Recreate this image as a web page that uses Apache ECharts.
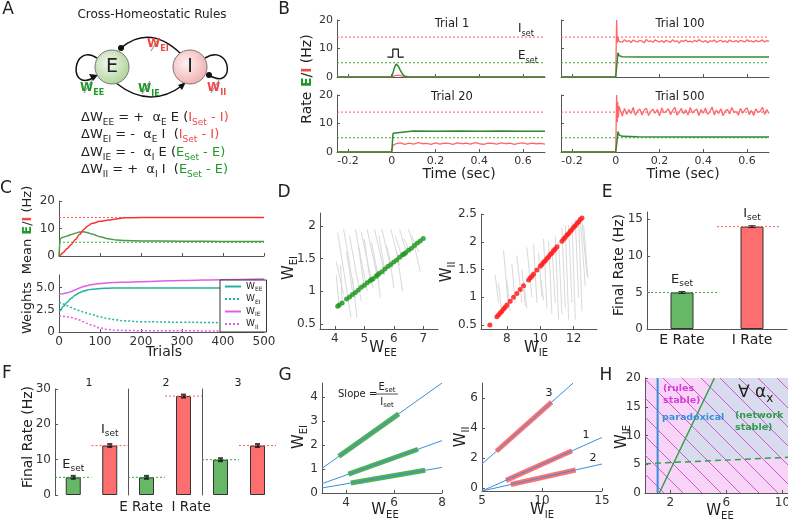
<!DOCTYPE html>
<html>
<head>
<meta charset="utf-8">
<title>Cross-homeostatic rules</title>
<script src="https://cdn.jsdelivr.net/npm/echarts@6.0.0/dist/echarts.min.js"></script>
<style>
html, body { margin: 0; padding: 0; background: #fff; }
#container { width: 788px; height: 519px; }
</style>
</head>
<body>
<div id="container"></div>
<script>
var FONT = 'DejaVu Sans';
var E_SET = 5, I_SET = 14;

// ---- B: single trials, rate (Hz) vs time (sec)
var bTicks = [-0.2, 0, 0.2, 0.4, 0.6];
var bTitles = ['Trial 1', 'Trial 20', 'Trial 100', 'Trial 500'];
var stimPulse = [[-0.02, 7], [0.005, 7], [0.005, 9.8], [0.03, 9.8], [0.03, 7], [0.055, 7]];
var trial1E = [[-0.25,0],[0,0],[0.005,0.6],[0.012,3.2],[0.02,4.5],[0.03,3.8],[0.04,2.2],[0.05,0.9],[0.06,0.25],[0.08,0],[0.7,0]];
var trial1I = [[-0.25,0],[0,0],[0.01,0.3],[0.02,0.6],[0.035,0.6],[0.05,0.3],[0.065,0.05],[0.08,0],[0.7,0]];
var trial20E = [[-0.25,0],[0,0],[0.006,6.6],[0.012,7.3],[0.1,7.4],[0.2,7.3],[0.3,7.35],[0.4,7.3],[0.5,7.35],[0.6,7.3],[0.7,7.3]];
var trial20IHead = [[-0.25,0],[0,0],[0.006,2.4],[0.012,3.1]];
var trial20ITail = [2.9,3.2,2.7,3.1,2.8,3.3,2.9,3.0,2.7,3.2,2.8,3.1,3.0,2.7,3.2,2.9,3.1,2.8,3.3,2.9,
                    2.7,3.1,3.0,2.8,3.2,2.9,3.1,2.7,3.0,3.2,2.8,3.1,2.9,3.0,2.8];
var trial100E = [[-0.25,0],[0,0],[0.006,5],[0.01,8.5],[0.015,7.5],[0.03,7.1],[0.1,7.0],[0.3,7.05],[0.5,7.0],[0.7,7.0]];
var trial100IHead = [[-0.25,0],[0,0],[0.004,20],[0.007,12],[0.01,14],[0.015,12.5]];
var trial100ITail = [12.9,12.2,13.1,12.4,12.8,12.1,13.0,12.5,12.3,12.9,12.6,12.0,13.2,12.4,12.7,12.2,13.0,12.6,12.3,12.8,
                     12.1,12.9,12.5,12.2,13.1,12.4,12.7,11.9,12.8,12.5,13.0,12.3,12.6,12.2,12.9,12.4,13.1,12.6,12.3,12.8,
                     12.0,12.7,12.5,13.0,12.2,12.6,12.9,12.3,12.7,12.1,13.0,12.5,12.4,12.8,12.2,12.9,12.6,12.3,13.1,12.5,
                     12.7,12.2,12.9,12.4,12.6,13.0,12.3,12.8,12.5];
var trial500E = [[-0.25,0],[0,0],[0.006,4],[0.01,7.2],[0.015,6],[0.03,5.5],[0.1,5.35],[0.4,5.3],[0.7,5.3]];
var trial500IHead = [[-0.25,0],[0,0],[0.004,20],[0.007,10.5],[0.009,17.5],[0.012,12],[0.015,16]];
var trial500ITail = [14.8,12.6,15.3,13.2,14.9,13.5,15.6,12.9,14.4,15.1,13.0,14.7,15.4,12.8,14.2,15.0,13.6,14.9,12.7,15.5,
                     13.8,14.3,15.2,13.1,14.6,15.7,12.9,14.0,15.3,13.4,14.8,13.0,15.6,13.7,14.5,15.1,12.8,14.9,13.6,15.4,
                     13.2,14.1,15.8,13.0,14.7,13.5,15.2,12.7,14.4,15.0,13.3,15.6,13.9,14.2,12.9,15.3,13.6,14.8,15.5,13.1,
                     14.6,12.8,15.1,13.9,14.3,15.7,13.2,14.9,13.5];

// ---- C: mean rates and weights over trials
var trials = [0,3,10,20,30,40,50,60,70,80,100,120,140,160,200,300,400,500];
var meanE = [0,6.3,6.8,7.3,7.8,8.3,8.7,8.8,8.5,8.0,7.0,6.3,5.8,5.6,5.5,5.4,5.3,5.3];
var meanI = [0,0.3,1.3,2.7,4.2,6.0,7.8,9.6,10.9,11.8,12.6,13.1,13.5,13.9,14.0,14.0,14.0,14.0];
var wEE = [2.3,2.4,2.85,3.35,3.8,4.15,4.4,4.6,4.72,4.8,4.88,4.92,4.94,4.95,4.95,4.95,4.95,4.95];
var wEI = [3.3,3.28,3.15,2.95,2.75,2.55,2.4,2.25,2.1,1.95,1.7,1.5,1.35,1.25,1.15,1.1,1.05,1.0];
var wIE = [4.25,4.26,4.3,4.4,4.55,4.75,4.95,5.1,5.22,5.32,5.45,5.52,5.57,5.6,5.65,5.78,5.88,5.95];
var wII = [1.8,1.79,1.75,1.7,1.62,1.5,1.35,1.15,0.95,0.75,0.45,0.28,0.2,0.17,0.15,0.13,0.12,0.12];

// ---- D: final weights from many initial conditions, and their paths
var dFinalEE = [4.1,4.15,4.25,4.4,4.5,4.6,4.7,4.8,4.9,5.0,5.1,5.2,5.25,5.3,5.4,5.45,5.5,5.6,5.7,5.8,5.9,6.0,6.1,6.2,6.3,6.35,6.4,6.5,6.6,6.7,6.8,6.9,7.0];
var dFinalEI = [0.77,0.79,0.82,0.88,0.91,0.95,0.98,1.02,1.06,1.09,1.13,1.16,1.18,1.19,1.23,1.25,1.27,1.30,1.34,1.38,1.41,1.45,1.48,1.52,1.56,1.57,1.59,1.63,1.66,1.70,1.74,1.77,1.81];
var dPathsE = [[4.05,1.45,4.3,0.95],[4.1,1.9,4.55,0.6],[4.05,1.25,4.15,0.75],[4.3,1.95,4.7,0.9],[4.4,1.6,4.6,1.0],
               [4.5,1.85,4.9,0.85],[4.7,1.95,5.1,1.0],[4.8,1.7,5.0,1.05],[4.9,1.9,5.3,1.05],[5.0,1.8,5.2,1.15],
               [5.1,1.95,5.45,1.2],[5.25,1.75,5.5,1.15],[5.35,1.95,5.7,1.25],[5.5,1.85,5.7,1.3],[5.6,1.95,5.9,1.35],
               [5.75,1.7,5.95,1.35],[5.9,1.95,6.2,1.4],[6.05,1.85,6.3,1.5],[6.2,1.95,6.45,1.55],[6.35,1.8,6.55,1.6],
               [6.5,1.95,6.7,1.65],[6.6,1.85,6.85,1.6],[4.6,1.2,4.75,0.6],[5.4,1.4,5.55,0.9],[6.1,1.6,6.3,1.0],
               [6.7,1.7,6.9,1.3],[5.9,1.4,6.0,1.05],[4.2,1.4,4.25,0.85]];
var dFinalIE = [6.98,7.4,7.5,7.6,7.7,7.8,7.9,8.0,8.2,8.4,8.6,8.8,9.0,9.3,9.4,9.5,9.6,9.8,10.0,10.1,10.2,10.3,10.4,10.5,10.6,10.7,10.8,10.9,11.0,11.3,11.4,11.5,11.6,11.7,11.8,11.9,12.0,12.1,12.2,12.3,12.4,12.5];
var dFinalII = [0.5,0.65,0.68,0.72,0.75,0.79,0.82,0.86,0.93,1.0,1.07,1.14,1.21,1.31,1.35,1.38,1.42,1.49,1.56,1.59,1.63,1.66,1.70,1.73,1.77,1.80,1.84,1.87,1.91,2.01,2.05,2.08,2.12,2.15,2.19,2.22,2.26,2.29,2.33,2.36,2.40,2.43];
var dPathsI = [[7.3,1.4,7.5,0.9],[7.5,1.25,7.7,0.7],[7.8,1.85,8.1,0.8],[8.0,1.3,8.2,0.75],[8.3,1.6,8.5,0.9],
               [8.6,1.75,8.9,0.9],[8.9,1.5,9.1,0.85],[9.2,1.9,9.5,1.0],[9.6,1.95,9.8,0.9],[9.9,1.8,10.1,1.0],
               [10.2,2.05,10.4,0.8],[10.5,2.0,10.7,0.7],[10.7,1.9,10.9,0.9],[10.9,2.1,11.1,0.6],[11.1,2.0,11.3,0.7],
               [11.3,2.25,11.5,0.8],[11.5,2.3,11.7,0.6],[11.7,2.3,11.9,0.9],[11.9,2.35,12.1,0.6],[12.1,2.4,12.3,1.0],
               [12.3,2.4,12.5,0.75],[12.4,2.4,12.7,1.2],[12.5,2.35,12.8,1.4],[12.6,2.3,12.85,1.35],[9.0,1.3,9.2,0.8],
               [10.0,1.4,10.2,0.95]];

// ---- E: final rates
var eCats = ['E Rate', 'I Rate'];
var eRates = [5.0, 14.0];

// ---- F: three set-point conditions
var fTitles = ['1', '2', '3'];
var fRateE = [5, 5, 10];
var fRateI = [14, 28, 14];
var fSetE = [5, 5, 10];
var fSetI = [14, 28, 14];

// ---- G: final weights lie on lines of slope Eset/Iset
var gLinesE = [[[3,1.03],[8,4.6]], [[3,0.39],[8,2.19]], [[3,0.21],[8,1.07]]];
var gFinalE = [[[3.7,1.53],[6.2,3.31]], [[4.1,0.79],[7.0,1.83]], [[4.2,0.42],[7.3,0.95]]];
var gLinesI = [[[5,1.6],[12.6,7.0]], [[5,-0.2],[15,3.37]], [[5,-0.2],[15,1.6]]];
var gFinalI = [[[6.2,2.45],[10.8,5.72]], [[7.0,0.51],[12.5,2.48]], [[7.4,0.23],[12.8,1.2]]];

// ---- H: stability regions
var hX = [0.2, 10.4], hY = [0, 20];
var hParadoxical = [[1.1,0],[1.1,20]];
var hNetStable = [[1.22,0],[5.15,20]];
var hNetStableDash = [[0.2,5.1],[10.4,6.2]];
var hStableRegion = [[2.27,5.32],[5.15,20],[10.4,20],[10.4,6.2]];

// colours
var RED_T = '#f04848', GREEN_T = '#1f9a2a';
var TEAL = '#20b59c', MAG = '#e45ce6', BLUE = '#3b8fd9';

function trace(head, t0, dt, vals) {
    var out = head.slice();
    for (var k = 0; k < vals.length; k++) out.push([+(t0 + k * dt).toFixed(3), vals[k]]);
    return out;
}
function zip(xs, ys) { return xs.map(function (x, k) { return [x, ys[k]]; }); }

var grids = [
    [337,20,208,57],[337,95,208,57],[561,20,208,57],[561,95,208,57],
    [59,201,205,55],[59,275,205,57],
    [320,213,118,116],[481,214,116,115],
    [647,212,140,117],
    [55,389,73,106],[128,389,74,106],[202,389,74,106],
    [322,383,120,110],[482,383,120,108],
    [645,378,143,115]
];

function vAxis(i, o) {
    var a = {
        type: 'value', gridIndex: i,
        axisLine: {show: true, onZero: false, lineStyle: {color: '#555', width: 1}},
        axisTick: {show: true, inside: true, length: 3, lineStyle: {color: '#555'}},
        axisLabel: {color: '#333', fontSize: 11, fontFamily: FONT, margin: 4},
        splitLine: {show: false}
    };
    for (var k in o) {
        if (o[k] && typeof o[k] === 'object' && !Array.isArray(o[k]) && a[k]) Object.assign(a[k], o[k]);
        else a[k] = o[k];
    }
    return a;
}
function cv(list, extra) { var r = {customValues: list}; for (var k in extra) r[k] = extra[k]; return r; }

var xAxes = [
    vAxis(0, {min: -0.25, max: 0.7, axisLabel: {show: false}, axisTick: cv(bTicks)}),
    vAxis(1, {min: -0.25, max: 0.7, axisLabel: cv(bTicks), axisTick: cv(bTicks)}),
    vAxis(2, {min: -0.25, max: 0.7, axisLabel: {show: false}, axisTick: cv(bTicks)}),
    vAxis(3, {min: -0.25, max: 0.7, axisLabel: cv(bTicks), axisTick: cv(bTicks)}),
    vAxis(4, {min: 0, max: 500, interval: 100, axisLabel: {show: false}}),
    vAxis(5, {min: 0, max: 500, interval: 100, axisLabel: {fontSize: 12}}),
    vAxis(6, {min: 3.5, max: 7.5, axisLabel: cv([4,5,6,7], {fontSize: 12}), axisTick: cv([4,5,6,7])}),
    vAxis(7, {min: 6.45, max: 13.4, axisLabel: cv([8,10,12], {fontSize: 12}), axisTick: cv([8,10,12])}),
    vAxis(8, {min: 0, max: 2, axisTick: {show: false},
        axisLabel: cv([0.5,1.5], {fontSize: 14, color: '#222', formatter: function (v) { return eCats[v < 1 ? 0 : 1]; }})}),
    vAxis(9, {min: 0, max: 2, axisLine: {show: false}, axisLabel: {show: false}, axisTick: {show: false}}),
    vAxis(10, {min: 0, max: 2, axisLine: {show: false}, axisLabel: {show: false}, axisTick: {show: false}}),
    vAxis(11, {min: 0, max: 2, axisLine: {show: false}, axisLabel: {show: false}, axisTick: {show: false}}),
    vAxis(12, {min: 3, max: 8, axisLabel: cv([4,6,8], {fontSize: 12}), axisTick: cv([4,6,8])}),
    vAxis(13, {min: 5, max: 15, interval: 5, axisLabel: {fontSize: 12}}),
    vAxis(14, {min: hX[0], max: hX[1], axisLabel: cv([2,6,10], {fontSize: 12}), axisTick: cv([2,6,10])})
];
var yAxes = [
    vAxis(0, {min: 0, max: 20, interval: 10}),
    vAxis(1, {min: 0, max: 20, interval: 10}),
    vAxis(2, {min: 0, max: 20, interval: 10, axisLabel: {show: false}}),
    vAxis(3, {min: 0, max: 20, interval: 10, axisLabel: {show: false}}),
    vAxis(4, {min: 0, max: 20, interval: 10, axisLabel: {fontSize: 12}}),
    vAxis(5, {min: 0, max: 6.4, axisLabel: cv([0,2.5,5], {fontSize: 12, formatter: function (v) { return v === 0 ? '0' : v.toFixed(1); }}), axisTick: cv([0,2.5,5])}),
    vAxis(6, {min: 0.42, max: 2.2, axisLabel: cv([0.5,1,1.5,2], {fontSize: 12}), axisTick: cv([0.5,1,1.5,2])}),
    vAxis(7, {min: 0.43, max: 2.5, axisLabel: cv([0.5,1,1.5,2,2.5], {fontSize: 12}), axisTick: cv([0.5,1,1.5,2,2.5])}),
    vAxis(8, {min: 0, max: 16, axisLabel: cv([0,5,10,15], {fontSize: 12}), axisTick: cv([0,5,10,15])}),
    vAxis(9, {min: 0, max: 30, interval: 10, axisLabel: {fontSize: 12}}),
    vAxis(10, {min: 0, max: 30, interval: 10, axisLabel: {show: false}, axisTick: {show: false}}),
    vAxis(11, {min: 0, max: 30, interval: 10, axisLabel: {show: false}, axisTick: {show: false}}),
    vAxis(12, {min: 0, max: 4.6, axisLabel: cv([0,1,2,3,4], {fontSize: 12}), axisTick: cv([0,1,2,3,4])}),
    vAxis(13, {min: -0.2, max: 7, axisLabel: cv([0,2,4,6], {fontSize: 12}), axisTick: cv([0,2,4,6])}),
    vAxis(14, {min: hY[0], max: hY[1], interval: 5, axisLabel: {fontSize: 12}})
];

var series = [];
function add(i, s) { s.xAxisIndex = i; s.yAxisIndex = i; s.animation = false; series.push(s); return s; }
function plain(i, data, color, width, type, extra) {
    var s = {type: 'line', data: data, symbol: 'none', silent: true, color: color,
        itemStyle: {color: color},
        lineStyle: {color: color, width: width, type: type || 'solid'}};
    for (var k in extra) s[k] = extra[k];
    return add(i, s);
}
function setLine(i, x0, x1, v, color) { return plain(i, [[x0, v], [x1, v]], color, 1, [2, 2]); }

// B
var bPanels = [
    {E: trial1E, I: trial1I},
    {E: trial20E, I: trace(trial20IHead, 0.02, 0.02, trial20ITail)},
    {E: trial100E, I: trace(trial100IHead, 0.02, 0.01, trial100ITail)},
    {E: trial500E, I: trace(trial500IHead, 0.02, 0.01, trial500ITail)}
];
bPanels.forEach(function (p, i) {
    setLine(i, -0.25, 0.7, I_SET, '#ff5a5a');
    setLine(i, -0.25, 0.7, E_SET, '#3aa63a');
    plain(i, p.I, '#ff6666', 1.3);
    plain(i, p.E, '#2f8a2f', 1.5);
});
plain(0, stimPulse, '#111', 1.2);

// C
setLine(4, 0, 500, I_SET, '#ff5a5a');
setLine(4, 0, 500, E_SET, '#3aa63a');
plain(4, zip(trials, meanE), '#4b9b4b', 1.5, 'solid', {smooth: 0.3, smoothMonotone: 'x'});
plain(4, zip(trials, meanI), '#ff3030', 1.5, 'solid', {smooth: 0.3, smoothMonotone: 'x'});
plain(5, zip(trials, wEE), TEAL, 1.5, 'solid', {name: 'WEE', smooth: 0.4, smoothMonotone: 'x'});
plain(5, zip(trials, wEI), TEAL, 1.5, [2, 2], {name: 'WEI', smooth: 0.4, smoothMonotone: 'x'});
plain(5, zip(trials, wIE), MAG, 1.5, 'solid', {name: 'WIE', smooth: 0.4, smoothMonotone: 'x'});
plain(5, zip(trials, wII), MAG, 1.5, [2, 2], {name: 'WII', smooth: 0.4, smoothMonotone: 'x'});

// D
function paths(list) { return list.map(function (s) { return {coords: [[s[0], s[1]], [s[2], s[3]]]}; }); }
add(6, {type: 'lines', coordinateSystem: 'cartesian2d', silent: true, data: paths(dPathsE), lineStyle: {color: '#d9d9d9', width: 1, opacity: 1}});
add(6, {type: 'scatter', data: zip(dFinalEE, dFinalEI), symbolSize: 5, itemStyle: {color: '#229a22', opacity: 0.85}});
add(7, {type: 'lines', coordinateSystem: 'cartesian2d', silent: true, data: paths(dPathsI), lineStyle: {color: '#d9d9d9', width: 1, opacity: 1}});
add(7, {type: 'scatter', data: zip(dFinalIE, dFinalII), symbolSize: 5, itemStyle: {color: '#ff1f1f', opacity: 0.85}});

// E
var barRich = {
    n: {color: '#222', fontSize: 13, fontFamily: FONT, lineHeight: 18},
    s: {color: '#222', fontSize: 9, fontFamily: FONT, lineHeight: 10, verticalAlign: 'bottom'}
};
setLine(8, 0, 1, E_SET, '#3aa63a');
setLine(8, 1, 1.9, I_SET, '#ff5a5a');
add(8, {type: 'bar', barWidth: 23, data: [
    {value: [0.5, eRates[0]], itemStyle: {color: '#66b866'}, label: {formatter: '{n|E}{s|set}'}},
    {value: [1.5, eRates[1]], itemStyle: {color: '#ff6e6e'}, label: {formatter: '{n|I}{s|set}'}}
], itemStyle: {borderColor: '#333', borderWidth: 1},
    label: {show: true, position: 'top', distance: 4, rich: barRich}});
add(8, {type: 'scatter', symbol: 'rect', symbolSize: [7, 3], itemStyle: {color: '#111'},
    data: [[0.5, eRates[0]], [1.5, eRates[1]]]});

// F
[0, 1, 2].forEach(function (k) {
    var i = 9 + k;
    setLine(i, 0, 1, fSetE[k], '#3aa63a');
    setLine(i, 1, 2, fSetI[k], '#ff5a5a');
    var lab = k === 0;
    add(i, {type: 'bar', barWidth: 15, data: [
        {value: [0.5, fRateE[k]], itemStyle: {color: '#66b866'}, label: {show: lab, formatter: '{n|E}{s|set}', distance: 4}},
        {value: [1.5, fRateI[k]], itemStyle: {color: '#ff6e6e'}, label: {show: lab, formatter: '{n|I}{s|set}', distance: 7}}
    ], itemStyle: {borderColor: '#333', borderWidth: 1},
        label: {position: 'top', rich: barRich}});
    add(i, {type: 'scatter', symbol: 'rect', symbolSize: 5, itemStyle: {color: '#111'},
        data: [[0.5, fRateE[k]], [1.5, fRateI[k]]]});
});

// G
gFinalE.forEach(function (s) { plain(12, s, '#3fa83f', 5, 'solid', {lineStyle: {color: '#3fa83f', width: 5, opacity: 0.9}}); });
gLinesE.forEach(function (s) { plain(12, s, BLUE, 1); });
gFinalI.forEach(function (s) { plain(13, s, '#ff6262', 5, 'solid', {lineStyle: {color: '#ff6262', width: 5, opacity: 0.9}}); });
gLinesI.forEach(function (s) { plain(13, s, BLUE, 1); });

// H
var pat = document.createElement('canvas');
pat.width = pat.height = 19;
var pc = pat.getContext('2d');
pc.strokeStyle = '#c84bc8';
pc.lineWidth = 0.9;
[[-2, -2, 21, 21], [-2, 17, 2, 21], [17, -2, 21, 2]].forEach(function (l) {
    pc.beginPath(); pc.moveTo(l[0], l[1]); pc.lineTo(l[2], l[3]); pc.stroke();
});
add(14, {type: 'custom', silent: true, data: [[0, 0]], renderItem: function (params, api) {
    var pts = hStableRegion.map(function (p) { return api.coord(p); });
    return {type: 'polygon', shape: {points: pts}, style: {fill: '#d9dbef'}};
}});
add(14, {type: 'custom', silent: true, data: [[0, 0]], renderItem: function (params, api) {
    var p0 = api.coord([hX[0], hY[1]]), p1 = api.coord([hX[1], hY[0]]);
    return {type: 'rect', shape: {x: p0[0], y: p0[1], width: p1[0] - p0[0], height: p1[1] - p0[1]},
        style: {fill: {image: pat, repeat: 'repeat'}}};
}});
plain(14, hParadoxical, BLUE, 2);
plain(14, hNetStable, '#33a04a', 1.5);
plain(14, hNetStableDash, '#33a04a', 1.5, [6, 4]);

// ---- text and diagram
function gRich(size) {
    var sub = Math.round(size * 0.68);
    function mk(fill, s, bold) {
        return {fill: fill, fontSize: s, fontFamily: FONT, fontWeight: bold ? 'bold' : 'normal',
            lineHeight: s === size ? Math.round(size * 1.4) : s + 1, verticalAlign: s === size ? 'middle' : 'bottom'};
    }
    return {k: mk('#222', size), ks: mk('#222', sub), r: mk(RED_T, size), rs: mk(RED_T, sub),
        g: mk(GREEN_T, size), gs: mk(GREEN_T, sub), rb: mk(RED_T, size, true), rbs: mk(RED_T, sub, true),
        gb: mk(GREEN_T, size, true), gbs: mk(GREEN_T, sub, true)};
}
function gText(x, y, text, size, opt) {
    opt = opt || {};
    return {type: 'text', x: x, y: y, rotation: opt.rot || 0, z: 50, silent: true, style: {
        text: text, fontSize: size, fontFamily: FONT, fill: opt.color || '#222',
        fontWeight: opt.bold ? 'bold' : 'normal', align: opt.align || 'center', verticalAlign: 'middle',
        rich: opt.rich ? gRich(size) : undefined}};
}
function seg(x1, y1, x2, y2, color, w) {
    return {type: 'line', z: 40, silent: true, shape: {x1: x1, y1: y1, x2: x2, y2: y2}, style: {stroke: color, lineWidth: w}};
}
var ROT = Math.PI / 2;

var eqs = [
    '{k|ΔW}{ks|EE}{k| = +  α}{ks|E}{k| E (}{r|I}{rs|Set}{r| - I)}',
    '{k|ΔW}{ks|EI}{k| = -  α}{ks|E}{k| I  (}{r|I}{rs|Set}{r| - I)}',
    '{k|ΔW}{ks|IE}{k| = -  α}{ks|I}{k| E (}{g|E}{gs|Set}{g| - E)}',
    '{k|ΔW}{ks|II}{k| = +  α}{ks|I}{k| I  (}{g|E}{gs|Set}{g| - E)}'
];

var graphics = [
    // panel letters
    gText(8, 10, 'A', 17), gText(284, 10, 'B', 17), gText(6, 189, 'C', 17), gText(284, 193, 'D', 17),
    gText(607, 193, 'E', 17), gText(7, 374, 'F', 17), gText(285, 376, 'G', 17), gText(606, 376, 'H', 17),
    // A
    gText(152, 15, 'Cross-Homeostatic Rules', 12),
    {type: 'bezierCurve', z: 30, silent: true, shape: {x1: 121, y1: 48, cpx1: 150, cpy1: 24, x2: 181, y2: 54}, style: {stroke: '#111', lineWidth: 1.5, fill: null}},
    {type: 'circle', z: 31, silent: true, shape: {cx: 121, cy: 48, r: 3}, style: {fill: '#111'}},
    {type: 'bezierCurve', z: 30, silent: true, shape: {x1: 116, y1: 83, cpx1: 150, cpy1: 110, x2: 183, y2: 85}, style: {stroke: '#111', lineWidth: 1.5, fill: null}},
    {type: 'polygon', z: 31, silent: true, shape: {points: [[186, 82], [178, 85], [182, 90]]}, style: {fill: '#111'}},
    {type: 'bezierCurve', z: 30, silent: true, shape: {x1: 97, y1: 58, cpx1: 72, cpy1: 42, cpx2: 68, cpy2: 92, x2: 93, y2: 78}, style: {stroke: '#111', lineWidth: 1.5, fill: null}},
    {type: 'polygon', z: 31, silent: true, shape: {points: [[98, 75], [89, 74], [93, 81]]}, style: {fill: '#111'}},
    {type: 'bezierCurve', z: 30, silent: true, shape: {x1: 205, y1: 58, cpx1: 232, cpy1: 42, cpx2: 236, cpy2: 92, x2: 209, y2: 75}, style: {stroke: '#111', lineWidth: 1.5, fill: null}},
    {type: 'circle', z: 31, silent: true, shape: {cx: 209, cy: 75, r: 3}, style: {fill: '#111'}},
    {type: 'circle', z: 32, silent: true, shape: {cx: 112, cy: 67, r: 17},
        style: {stroke: '#777', lineWidth: 1, fill: {type: 'radial', x: 0.4, y: 0.4, r: 0.7, colorStops: [{offset: 0, color: '#f2f8ec'}, {offset: 1, color: '#a8cf92'}]}}},
    {type: 'circle', z: 32, silent: true, shape: {cx: 190, cy: 67, r: 17},
        style: {stroke: '#777', lineWidth: 1, fill: {type: 'radial', x: 0.4, y: 0.4, r: 0.7, colorStops: [{offset: 0, color: '#fdf1f1'}, {offset: 1, color: '#f1a9a9'}]}}},
    gText(112, 67, 'E', 19), gText(190, 67, 'I', 19),
    gText(147, 44, '{rb|W}{rbs|EI}', 12, {align: 'left', rich: true}),
    gText(80, 88, '{gb|W}{gbs|EE}', 12, {align: 'left', rich: true}),
    gText(138, 89, '{gb|W}{gbs|IE}', 12, {align: 'left', rich: true}),
    gText(207, 88, '{rb|W}{rbs|II}', 12, {align: 'left', rich: true}),
    seg(151, 51, 159, 38, '#999', 1.2), seg(84, 93, 92, 80, '#999', 1.2),
    seg(142, 94, 150, 81, '#999', 1.2), seg(211, 93, 219, 80, '#999', 1.2),
    gText(81, 118, eqs[0], 13, {align: 'left', rich: true}),
    gText(81, 135, eqs[1], 13, {align: 'left', rich: true}),
    gText(81, 153, eqs[2], 13, {align: 'left', rich: true}),
    gText(81, 170, eqs[3], 13, {align: 'left', rich: true}),
    // B
    gText(452, 24, bTitles[0], 11.5), gText(452, 97, bTitles[1], 11.5),
    gText(680, 24, bTitles[2], 11.5), gText(680, 97, bTitles[3], 11.5),
    gText(518, 29, '{k|I}{ks|set}', 12, {align: 'left', rich: true}),
    gText(518, 56, '{k|E}{ks|set}', 12, {align: 'left', rich: true}),
    gText(459, 174, 'Time (sec)', 14), gText(683, 174, 'Time (sec)', 14),
    gText(307, 79, '{k|Rate }{gb|E}{k|/}{rb|I}{k| (Hz)}', 14, {rot: ROT, rich: true}),
    // C
    gText(28, 230, '{k|Mean }{gb|E}{k|/}{rb|I}{k| (Hz)}', 13, {rot: ROT, rich: true}),
    gText(28, 308, 'Weights', 13, {rot: ROT}),
    gText(164, 352, 'Trials', 14),
    // D
    gText(289, 268, '{k|W}{ks|EI}', 15, {rot: ROT, rich: true}),
    gText(383, 348, '{k|W}{ks|EE}', 15, {rich: true}),
    gText(447, 272, '{k|W}{ks|II}', 15, {rot: ROT, rich: true}),
    gText(536, 348, '{k|W}{ks|IE}', 15, {rich: true}),
    // E
    gText(619, 265, 'Final Rate (Hz)', 14, {rot: ROT}),
    // F
    gText(28, 437, 'Final Rate (Hz)', 14, {rot: ROT}),
    gText(89, 383, fTitles[0], 11), gText(166, 383, fTitles[1], 11), gText(238, 383, fTitles[2], 11),
    gText(165, 507, 'E Rate  I Rate', 13.5),
    // G
    gText(338, 394, 'Slope =', 10, {align: 'left'}),
    gText(387, 387, '{k|E}{ks|set}', 10, {rich: true}),
    seg(376, 394, 398, 394, '#222', 0.8),
    gText(387, 402, '{k|I}{ks|set}', 10, {rich: true}),
    gText(299, 437, '{k|W}{ks|EI}', 15, {rot: ROT, rich: true}),
    gText(385, 510, '{k|W}{ks|EE}', 15, {rich: true}),
    gText(461, 437, '{k|W}{ks|II}', 15, {rot: ROT, rich: true}),
    gText(542, 510, '{k|W}{ks|IE}', 15, {rich: true}),
    gText(549, 393, '3', 11), gText(586, 435, '1', 11), gText(593, 458, '2', 11),
    // H
    gText(622, 437, '{k|W}{ks|IE}', 15, {rot: ROT, rich: true}),
    gText(720, 511, '{k|W}{ks|EE}', 15, {rich: true}),
    gText(663, 389, '(rules', 9.5, {align: 'left', bold: true, color: '#d63cd6'}),
    gText(663, 401, 'stable)', 9.5, {align: 'left', bold: true, color: '#d63cd6'}),
    gText(662, 418, 'paradoxical', 9.5, {align: 'left', bold: true, color: BLUE}),
    gText(735, 416, '(network', 9.5, {align: 'left', bold: true, color: '#2e9a4a'}),
    gText(735, 428, 'stable)', 9.5, {align: 'left', bold: true, color: '#2e9a4a'}),
    gText(738, 393, '{k|∀ α}{ks|x}', 17, {align: 'left', rich: true})
];

var chart = echarts.init(document.getElementById('container'), null, {renderer: 'canvas'});
var option = {
    animation: false,
    backgroundColor: '#fff',
    textStyle: {fontFamily: FONT},
    grid: grids.map(function (g) {
        return {left: g[0], top: g[1], width: g[2], height: g[3], containLabel: false, outerBoundsMode: 'none'};
    }),
    xAxis: xAxes,
    yAxis: yAxes,
    legend: {
        left: 220, top: 280, orient: 'vertical', itemWidth: 16, itemHeight: 8, itemGap: 2,
        padding: [2, 4], backgroundColor: '#fff', borderColor: '#333', borderWidth: 1,
        data: ['WEE', 'WEI', 'WIE', 'WII'], selectedMode: false,
        itemStyle: {opacity: 0},
        formatter: function (name) { return '{n|W}{s|' + name.slice(1) + '}'; },
        textStyle: {rich: {
            n: {fontSize: 9, fontFamily: FONT, color: '#222', lineHeight: 12},
            s: {fontSize: 6, fontFamily: FONT, color: '#222', lineHeight: 7, verticalAlign: 'bottom'}
        }}
    },
    series: series,
    graphic: graphics
};
option.grid[14].show = true;
option.grid[14].backgroundColor = '#f8d4f8';
option.grid[14].borderWidth = 0;
chart.setOption(option);
</script>
</body>
</html>
